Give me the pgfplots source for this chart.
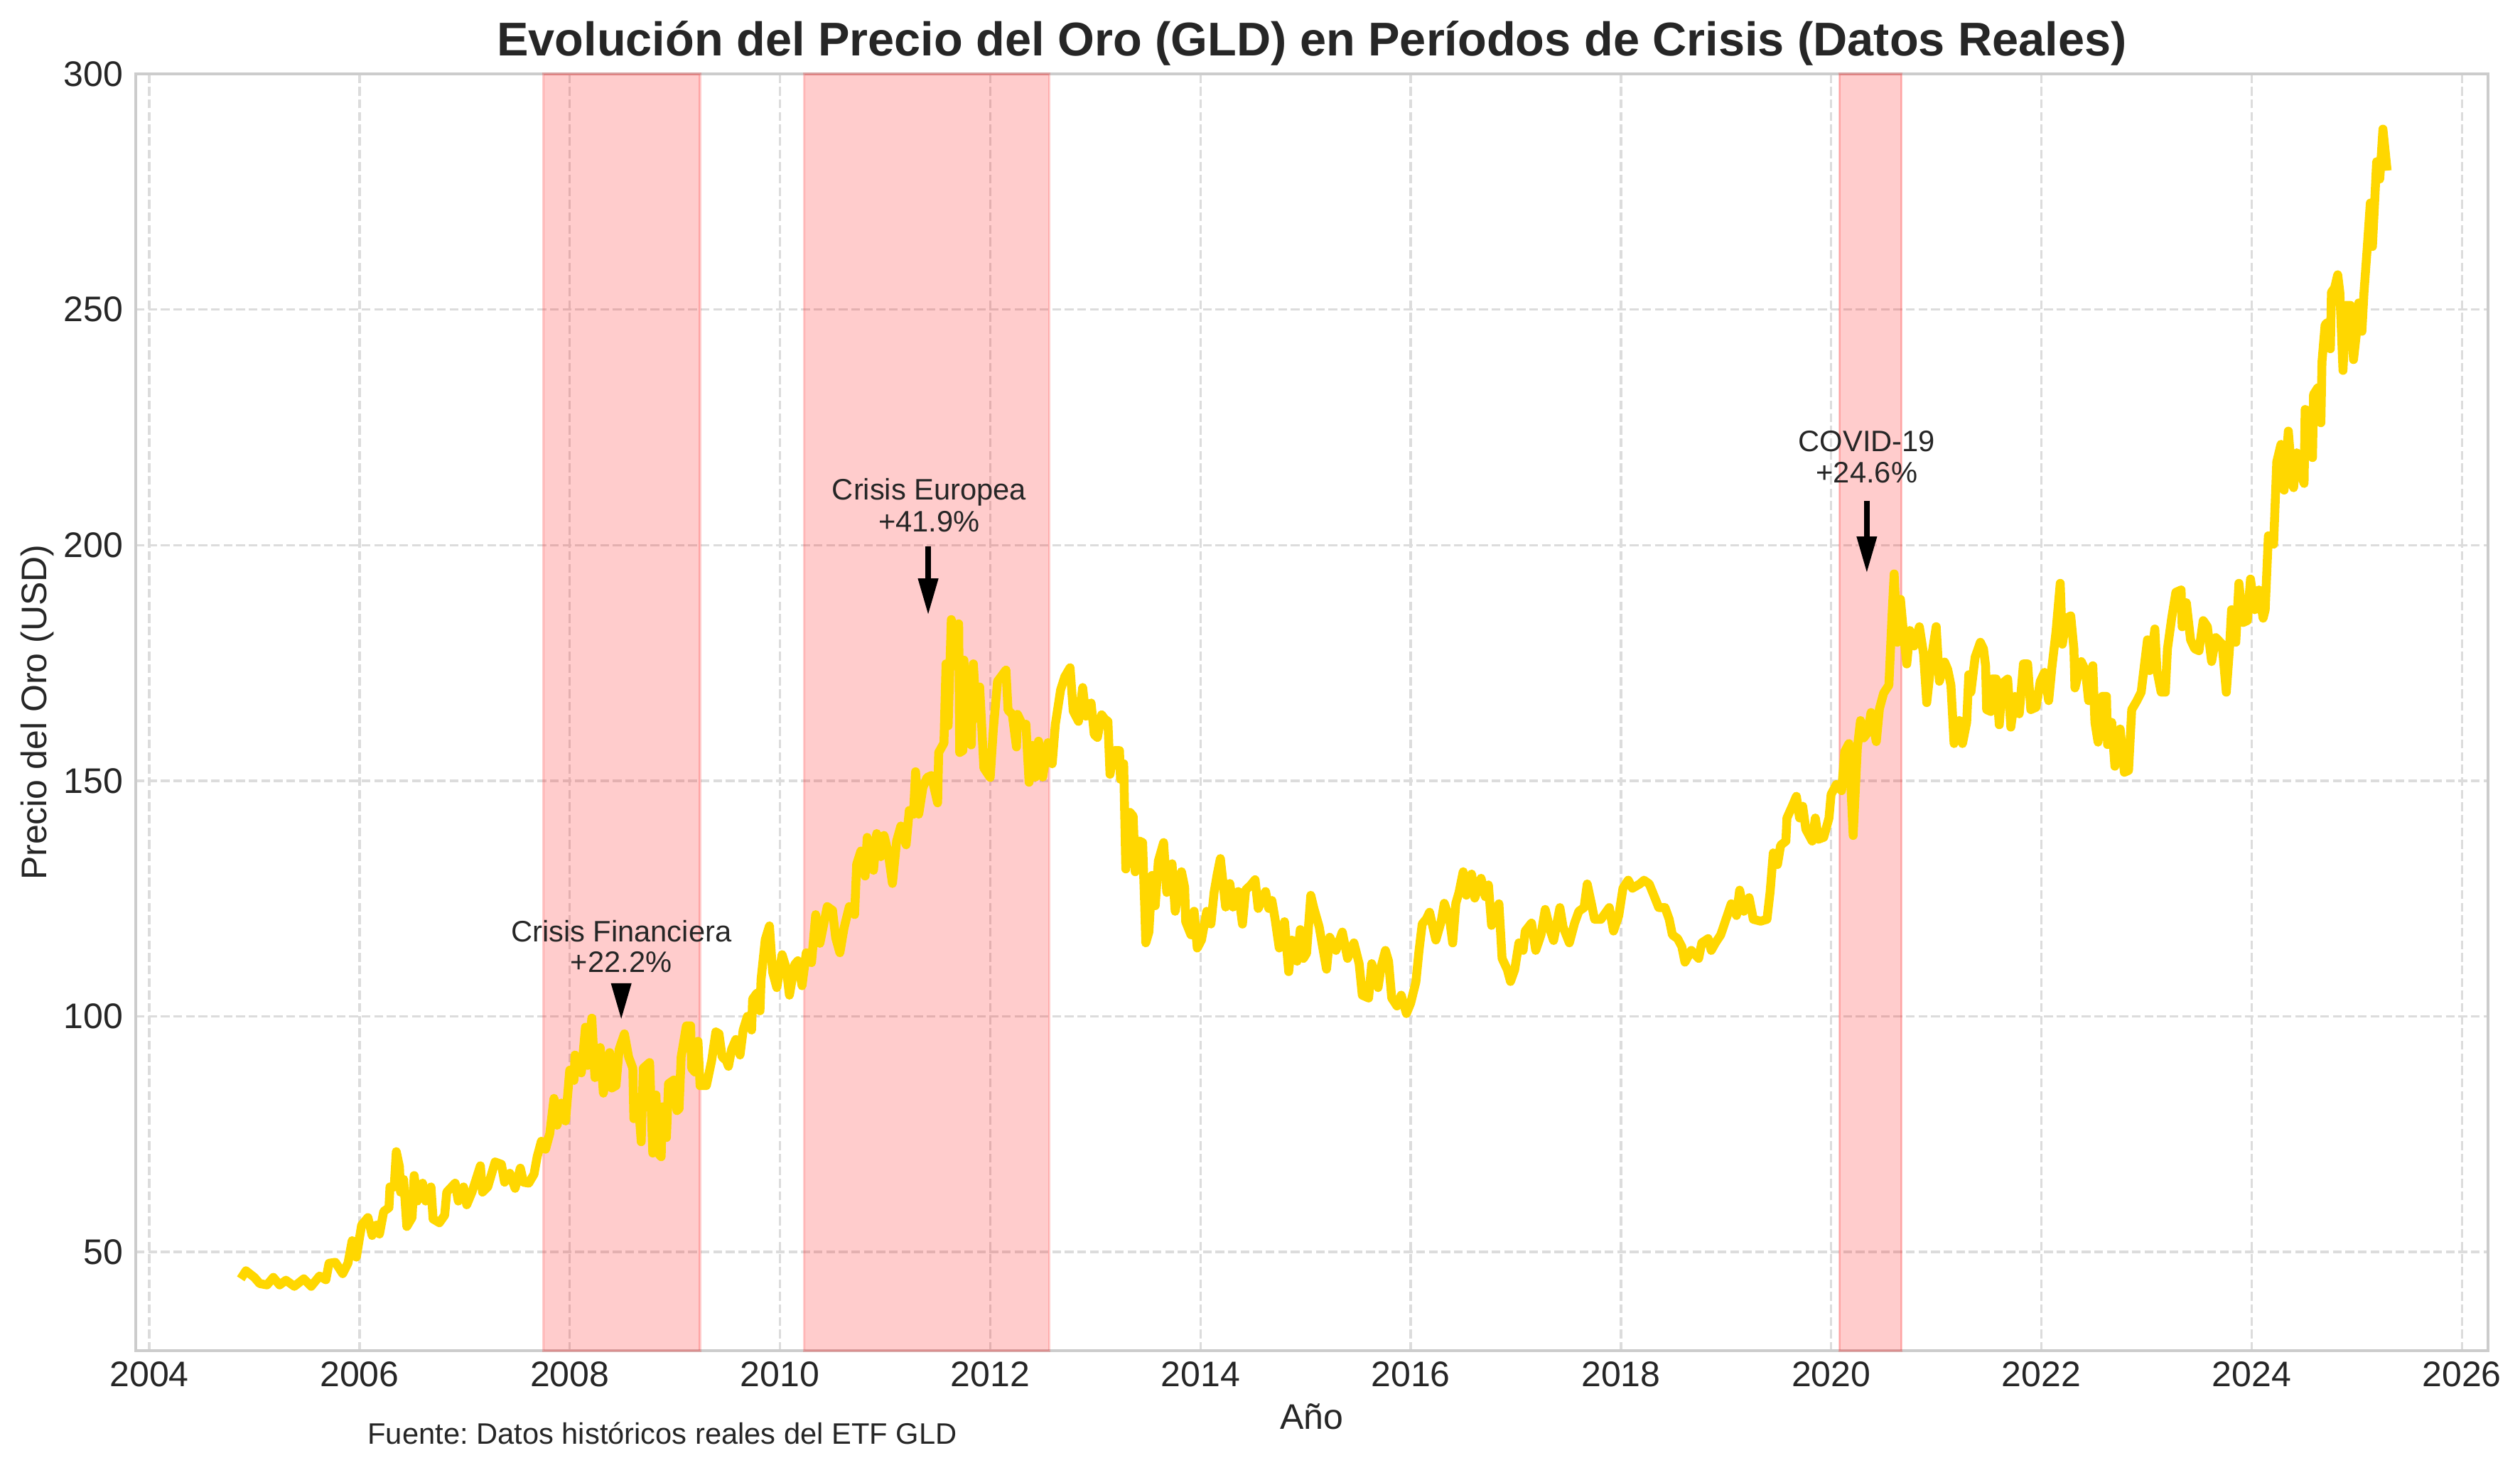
\documentclass[border=0pt]{standalone}
\usepackage{fontspec}
\setmainfont{Liberation Sans}
\usepackage{pgfplots}
\usepackage{pgfplotstable}
\pgfplotsset{compat=1.18}
\frenchspacing
\definecolor{txt}{RGB}{38,38,38}
\definecolor{spine}{RGB}{204,204,204}
\definecolor{gridc}{RGB}{220,220,220}
\definecolor{goldline}{RGB}{255,215,0}

\pgfplotstableread{
x y
2004.87 44.3
2004.92 46
2005.00 44.6
2005.05 43.3
2005.12 43.0
2005.18 44.6
2005.24 43
2005.30 44
2005.38 42.7
2005.47 44.3
2005.54 42.7
2005.62 44.9
2005.68 44.1
2005.71 47.6
2005.77 47.8
2005.84 45.4
2005.89 47.6
2005.93 52.4
2005.97 48.9
2006.02 55.7
2006.08 57.3
2006.12 53.5
2006.16 55.7
2006.19 53.8
2006.23 58.6
2006.28 59.4
2006.29 63.8
2006.33 63.8
2006.35 71.3
2006.38 68.1
2006.39 62.7
2006.42 65.4
2006.45 55.4
2006.50 57.3
2006.52 66.2
2006.55 60.8
2006.60 64.6
2006.63 60.8
2006.68 63.8
2006.70 57
2006.76 56.2
2006.81 57.8
2006.83 62.7
2006.91 64.6
2006.94 60.8
2006.99 63.8
2007.02 60
2007.07 62.7
2007.15 68.3
2007.17 62.7
2007.22 63.8
2007.29 69.1
2007.35 68.6
2007.38 64.8
2007.43 66.7
2007.48 63.5
2007.53 67.8
2007.56 64.8
2007.61 64.6
2007.66 66.5
2007.69 70.2
2007.73 73.5
2007.77 71.8
2007.81 75.1
2007.85 82.6
2007.88 76.9
2007.92 81.6
2007.96 77.8
2008.00 88.6
2008.04 86.4
2008.05 91.8
2008.11 88
2008.15 97.7
2008.17 89.6
2008.21 99.6
2008.24 87
2008.29 93.4
2008.32 83.7
2008.38 92.3
2008.40 84.8
2008.44 85.3
2008.47 93
2008.52 96.3
2008.56 91.4
2008.60 89
2008.61 78.3
2008.65 82.8
2008.68 73.4
2008.70 89
2008.76 90.2
2008.79 71
2008.82 83.3
2008.84 71
2008.87 70.2
2008.88 80.8
2008.92 74.3
2008.94 85.7
2008.99 86.5
2009.02 80
2009.04 80.4
2009.06 91.4
2009.11 98
2009.15 98
2009.16 89
2009.19 88.2
2009.22 94.7
2009.24 85.3
2009.30 85.3
2009.35 90.6
2009.39 96.7
2009.42 96.3
2009.45 91.4
2009.49 90.6
2009.51 89.4
2009.54 93
2009.58 95.1
2009.62 91.8
2009.65 97.1
2009.69 100
2009.73 97.1
2009.74 103.7
2009.78 104.9
2009.81 101.2
2009.82 107.8
2009.86 116.3
2009.90 119.2
2009.93 109.4
2009.97 106.1
2010.02 113.1
2010.06 110.2
2010.09 104.5
2010.14 111
2010.17 111.8
2010.21 106.5
2010.25 113.5
2010.30 111.4
2010.34 121.6
2010.38 115.5
2010.45 123.3
2010.50 122.5
2010.53 116.7
2010.57 113.5
2010.61 118.8
2010.66 123.3
2010.71 121.6
2010.73 132.3
2010.77 135.1
2010.81 129.8
2010.83 138
2010.89 131
2010.92 138.8
2010.96 133.9
2010.99 138.4
2011.03 134.7
2011.07 128.2
2011.11 137.2
2011.15 140.4
2011.20 136.4
2011.23 143.7
2011.27 142.9
2011.29 151.9
2011.32 142.9
2011.36 148.6
2011.40 150.7
2011.44 151.1
2011.50 145.3
2011.51 156
2011.56 158
2011.58 174.8
2011.60 161.7
2011.63 184.2
2011.67 178.8
2011.70 183.3
2011.71 156
2011.74 156.4
2011.75 175.6
2011.79 158.4
2011.82 157.6
2011.84 174.8
2011.87 163.3
2011.90 169.9
2011.94 152.7
2012.00 150.7
2012.03 160.9
2012.07 171.1
2012.11 172.3
2012.15 173.5
2012.17 165
2012.21 164.1
2012.25 157.2
2012.26 164.1
2012.31 161.7
2012.34 162
2012.37 149.7
2012.40 157.5
2012.43 150.8
2012.46 158.4
2012.50 150.8
2012.55 158.1
2012.59 153.6
2012.62 162
2012.67 169.3
2012.71 172.1
2012.76 174
2012.79 164.8
2012.84 162.6
2012.88 169.8
2012.91 163.7
2012.96 166.5
2012.99 159.8
2013.02 159.2
2013.06 164
2013.09 163.1
2013.12 162.6
2013.14 151.4
2013.18 156.4
2013.23 156.4
2013.24 150.3
2013.27 153.6
2013.29 131.3
2013.33 143.3
2013.36 142.5
2013.38 130.7
2013.42 137.2
2013.45 136.9
2013.47 123.5
2013.48 115.6
2013.51 117.9
2013.54 129.9
2013.57 123.5
2013.60 133
2013.65 136.9
2013.68 126.3
2013.73 132.4
2013.76 122.3
2013.82 130.7
2013.85 127.4
2013.86 120.1
2013.91 117.3
2013.94 122.3
2013.97 114.5
2014.01 116.2
2014.06 122.3
2014.10 119.6
2014.13 126.3
2014.16 130.2
2014.19 133.5
2014.24 123.2
2014.28 128.2
2014.31 123.2
2014.36 126.5
2014.40 119.6
2014.43 126.8
2014.48 127.9
2014.52 129
2014.55 122.9
2014.62 126.5
2014.65 122.9
2014.68 124.6
2014.71 120.7
2014.75 114.5
2014.80 120.1
2014.84 109.5
2014.87 116.2
2014.92 111.7
2014.95 118.4
2014.98 112.3
2015.01 113.4
2015.05 125.7
2015.08 122.9
2015.13 119
2015.16 115.1
2015.20 110
2015.23 116.8
2015.29 114
2015.35 117.9
2015.40 112.3
2015.46 115.6
2015.51 111.2
2015.54 104.5
2015.60 103.9
2015.63 111.2
2015.69 106.1
2015.72 110.6
2015.76 114
2015.79 111.7
2015.82 103.9
2015.87 102.2
2015.91 104.5
2015.96 100.6
2016.00 102.8
2016.05 107.3
2016.08 114
2016.11 119.6
2016.15 120.7
2016.18 122.1
2016.24 116.2
2016.29 120.1
2016.32 124
2016.37 120.7
2016.40 115.6
2016.43 124
2016.46 126.3
2016.50 130.7
2016.53 125.7
2016.58 130.2
2016.61 125.1
2016.67 129.3
2016.71 125.4
2016.74 127.9
2016.77 119.3
2016.84 123.9
2016.87 112.3
2016.92 109.9
2016.95 107.4
2016.99 109.9
2017.03 115.6
2017.07 114
2017.09 118.1
2017.15 119.8
2017.19 114
2017.24 117.3
2017.28 122.7
2017.33 118.1
2017.36 116.1
2017.42 123.1
2017.45 119
2017.51 115.6
2017.56 119.8
2017.60 122.3
2017.65 123.1
2017.68 128.1
2017.72 123.9
2017.75 120.6
2017.81 120.6
2017.89 123.1
2017.93 118.1
2017.98 121.4
2018.02 127.2
2018.07 128.9
2018.11 127.2
2018.18 128.1
2018.22 128.9
2018.27 128.1
2018.33 124.8
2018.36 123.1
2018.42 123.1
2018.46 120.6
2018.49 117.3
2018.54 116.5
2018.58 114.8
2018.61 111.5
2018.67 114
2018.74 112.3
2018.77 115.6
2018.83 116.5
2018.86 114
2018.90 115.6
2018.95 117.3
2019.00 120.6
2019.05 123.9
2019.10 121.4
2019.13 126.8
2019.17 122.3
2019.22 125.2
2019.26 120.6
2019.33 120.2
2019.39 120.6
2019.42 126.4
2019.45 134.7
2019.49 132.2
2019.52 136.3
2019.57 137.2
2019.58 142.1
2019.63 144.6
2019.67 146.7
2019.70 142.1
2019.73 144.6
2019.76 139.7
2019.82 137.2
2019.85 142.1
2019.88 137.6
2019.93 138
2019.98 142.1
2020.00 147.1
2020.05 149.2
2020.10 147.9
2020.13 156.2
2020.17 157.9
2020.21 138.4
2020.25 157
2020.28 162.8
2020.31 159.1
2020.35 160.3
2020.38 164.5
2020.43 158.3
2020.46 165.3
2020.50 168.6
2020.55 170.3
2020.58 185.2
2020.60 193.9
2020.63 179.4
2020.66 188.5
2020.69 181
2020.72 174.8
2020.75 181.9
2020.79 178.6
2020.84 182.7
2020.88 176.9
2020.91 166.6
2020.96 176.9
2021.00 182.7
2021.03 171.1
2021.08 175.2
2021.11 173.6
2021.14 170.3
2021.17 157.9
2021.22 162.8
2021.25 157.9
2021.29 162.4
2021.31 172.5
2021.33 168.8
2021.37 176.2
2021.42 179.4
2021.45 178
2021.47 174.4
2021.48 165.1
2021.52 164.7
2021.53 171.6
2021.57 171.6
2021.60 161.9
2021.63 170.7
2021.68 171.6
2021.71 161.4
2021.75 167.9
2021.79 164.2
2021.83 174.8
2021.87 174.8
2021.90 165.1
2021.95 165.6
2021.99 171.1
2022.03 173
2022.07 167
2022.10 173.9
2022.14 181.7
2022.18 191.9
2022.20 179
2022.24 184.5
2022.28 185
2022.31 178
2022.32 169.7
2022.38 175.3
2022.42 173.4
2022.45 167
2022.49 174.4
2022.51 162.4
2022.54 158.2
2022.58 167.9
2022.62 167.9
2022.63 157.7
2022.67 162.4
2022.70 153.1
2022.75 161
2022.79 151.8
2022.83 152.2
2022.86 165.1
2022.91 167
2022.95 168.8
2022.98 174.4
2023.01 179.9
2023.03 173.4
2023.08 182.2
2023.10 173.4
2023.14 168.8
2023.18 168.8
2023.20 178
2023.24 184.5
2023.28 190
2023.33 190.5
2023.34 182.7
2023.38 187.8
2023.42 179.9
2023.46 178
2023.50 177.6
2023.54 184
2023.58 182.7
2023.62 175.3
2023.66 180.4
2023.72 179
2023.76 168.8
2023.79 178
2023.81 186.3
2023.85 179.4
2023.88 191.9
2023.92 183.6
2023.96 184
2023.99 192.8
2024.03 186.3
2024.07 190.5
2024.11 184.5
2024.13 186.3
2024.16 202
2024.21 200.2
2024.24 217.7
2024.28 221.4
2024.31 211.7
2024.35 224.2
2024.39 213.1
2024.40 212.2
2024.43 219.6
2024.46 216
2024.50 213.1
2024.51 228.8
2024.55 228.3
2024.58 218.6
2024.59 232
2024.63 233.4
2024.66 226
2024.67 238.9
2024.70 246.8
2024.72 247.2
2024.75 241.7
2024.76 253.7
2024.79 254.6
2024.82 257.4
2024.84 253.7
2024.87 237.1
2024.90 250.9
2024.94 250.9
2024.97 239.4
2025.00 245.4
2025.02 251.4
2025.05 245.4
2025.07 253.7
2025.10 262.9
2025.13 272.6
2025.15 263.4
2025.18 276.8
2025.19 281.4
2025.22 277.7
2025.25 288.3
2025.29 279.5
}\gld

\begin{document}
\begin{tikzpicture}
\begin{axis}[
  at={(0pt,0pt)}, anchor=south west,
  scale only axis, width=794.4pt, height=431.3pt,
  xmin=2003.87, xmax=2026.25, ymin=29, ymax=300,
  xtick={2004,2006,...,2026}, ytick={50,100,...,300},
  grid=major,
  major grid style={draw=gridc, line width=0.8pt, dash pattern=on 2.96pt off 1.28pt},
  axis line style={draw=spine, line width=1pt},
  major tick length=0pt,
  tick style={draw=none},
  /pgf/number format/1000 sep={},
  /pgf/number format/assume math mode=true,
  ticklabel style={font=\fontsize{12}{14}\selectfont, text=txt},
  xticklabel style={anchor=north, inner sep=0pt, yshift=-3.5pt},
  yticklabel style={anchor=east, inner sep=0pt, xshift=-4pt},
  clip=false,
]
% crisis periods
\addplot[forget plot, fill=red, fill opacity=0.2, draw=red, draw opacity=0.2, line width=0.8pt]
  coordinates {(2007.75,29) (2009.24,29) (2009.24,300) (2007.75,300)} -- cycle;
\addplot[forget plot, fill=red, fill opacity=0.2, draw=red, draw opacity=0.2, line width=0.8pt]
  coordinates {(2010.23,29) (2012.56,29) (2012.56,300) (2010.23,300)} -- cycle;
\addplot[forget plot, fill=red, fill opacity=0.2, draw=red, draw opacity=0.2, line width=0.8pt]
  coordinates {(2020.08,29) (2020.67,29) (2020.67,300) (2020.08,300)} -- cycle;
% price line
\addplot[goldline, line width=3pt, line join=round] table[x=x, y=y] {\gld};
% annotations
\begin{scope}[font=\fontsize{10}{11}\selectfont, text=txt]
\node[anchor=base, inner sep=0pt] at (axis cs:2008.49,115.9) {Crisis Financiera};
\node[anchor=base, inner sep=0pt] at (axis cs:2008.49,109.4) {+22.2\%};
\node[anchor=base, inner sep=0pt] at (axis cs:2011.42,209.7) {Crisis Europea};
\node[anchor=base, inner sep=0pt] at (axis cs:2011.42,202.8) {+41.9\%};
\node[anchor=base, inner sep=0pt] at (axis cs:2020.34,219.9) {COVID-19};
\node[anchor=base, inner sep=0pt] at (axis cs:2020.34,213.2) {+24.6\%};
\end{scope}
% arrows
\fill[black, line join=round] (axis cs:2008.49,99.5) -- ++(-3.5pt,12pt) -- ++(7pt,0pt) -- cycle;
\draw[black, line width=1.8pt] (axis cs:2011.41,199.7) -- ([yshift=11pt]axis cs:2011.41,185.4);
\fill[black] (axis cs:2011.41,185.4) -- ++(-3.5pt,12pt) -- ++(7pt,0pt) -- cycle;
\draw[black, line width=1.8pt] (axis cs:2020.34,209.4) -- ([yshift=11pt]axis cs:2020.34,194.3);
\fill[black] (axis cs:2020.34,194.3) -- ++(-3.5pt,12pt) -- ++(7pt,0pt) -- cycle;
\end{axis}
% titles and labels
\node[anchor=base, inner sep=0pt, text=txt, font=\fontsize{16}{19}\selectfont\bfseries] at (397.2pt,437.5pt)
  {Evolución del Precio del Oro (GLD) en Períodos de Crisis (Datos Reales)};
\node[anchor=base, inner sep=0pt, text=txt, font=\fontsize{12}{14}\selectfont] at (397.2pt,-26.4pt) {Año};
\node[anchor=base, inner sep=0pt, rotate=90, text=txt, font=\fontsize{12}{14}\selectfont] at (-30.2pt,215.65pt) {Precio del Oro (USD)};
\node[anchor=base west, inner sep=0pt, text=txt, font=\fontsize{10}{12}\selectfont] at (78.2pt,-31.5pt) {Fuente: Datos históricos reales del ETF GLD};
\pgfresetboundingbox
\useasboundingbox (-45.8pt,-41.8pt) rectangle (805.2pt,456.3pt);
\end{tikzpicture}
\end{document}
